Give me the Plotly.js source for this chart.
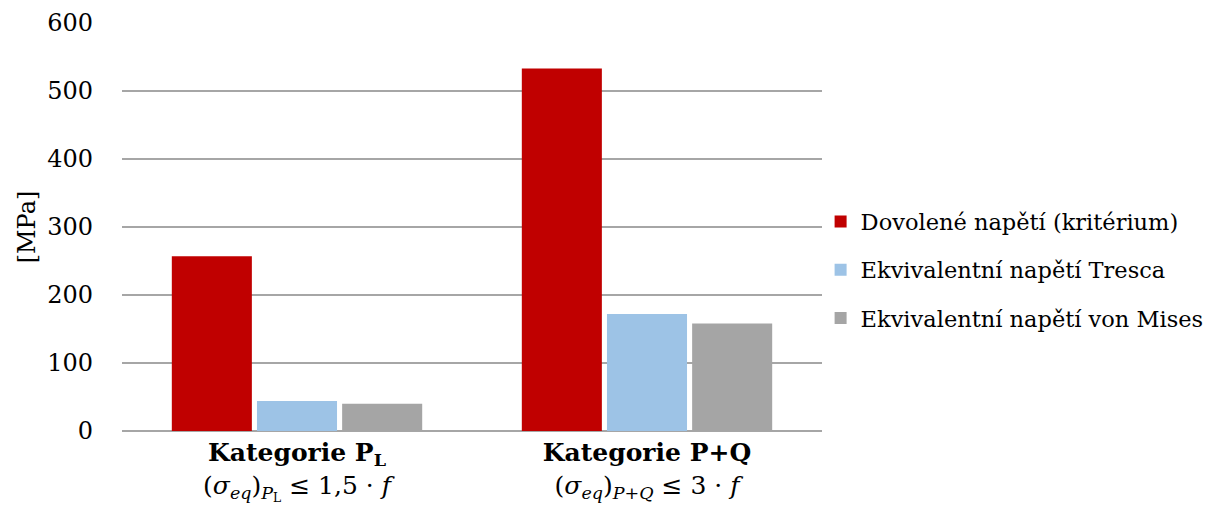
<!DOCTYPE html>
<html>
<head>
<meta charset="utf-8">
<script src="https://cdn.plot.ly/plotly-3.0.1.min.js"></script>
<style>html,body{margin:0;padding:0;background:#fff;}#chart{width:1218px;height:508px;}</style>
</head>
<body>
<div id="chart"></div>
<script>
const categories = ["Kategorie P_L", "Kategorie P+Q"];
const tickLabels = [
  "<b>Kategorie P<sub>L</sub></b><br>(<i>σ</i><sub><i>eq</i></sub>)<sub><i>P</i><sub>L</sub></sub> ≤ 1,5 · <i>f</i>",
  "<b>Kategorie P+Q</b><br>(<i>σ</i><sub><i>eq</i></sub>)<sub><i>P+Q</i></sub> ≤ 3 · <i>f</i>"
];
const seriesNames = ["Dovolené napětí (kritérium)", "Ekvivalentní napětí Tresca", "Ekvivalentní napětí von Mises"];
const allowable = [257, 533];
const tresca = [44, 172];
const vonMises = [40, 158];
const yTicks = [0, 100, 200, 300, 400, 500, 600];

const FONT = "DejaVu Serif";
const colors = ["#c00000", "#9dc3e6", "#a5a5a5"];
const values = [allowable, tresca, vonMises];

const traces = values.map((v, i) => ({
  type: "bar",
  x: categories,
  y: v,
  name: seriesNames[i],
  legendgroup: "g" + i,
  marker: {color: colors[i], line: {width: 0}},
  hoverinfo: "y+name"
}));

const layout = {
  width: 1218, height: 508,
  margin: {l: 122, r: 396, t: 23, b: 77, autoexpand: false},
  paper_bgcolor: "#fff", plot_bgcolor: "#fff",
  font: {family: FONT, size: 24, color: "#000"},
  barmode: "group",
  bargap: 0.27,
  bargroupgap: 0.06,
  showlegend: true,
  legend: {
    x: 0.998, xanchor: "left", y: 0.395, yanchor: "middle",
    font: {family: FONT, size: 22.5, color: "#000"},
    traceorder: "grouped", tracegroupgap: 16,
    itemwidth: 30,
    bgcolor: "rgba(0,0,0,0)"
  },
  xaxis: {
    type: "category",
    tickmode: "array", tickvals: categories, ticktext: tickLabels,
    showgrid: false, zeroline: false, showline: false, ticks: "",
    ticklabelstandoff: 4,
    tickfont: {family: FONT, size: 25, color: "#000"}
  },
  yaxis: {
    range: [0, 600],
    tickmode: "array", tickvals: yTicks,
    showgrid: true, gridcolor: "#a6a6a6", gridwidth: 2,
    zeroline: true, zerolinecolor: "#a6a6a6", zerolinewidth: 2,
    showline: false, ticks: "", ticklen: 0,
    ticklabelstandoff: 28,
    tickfont: {family: FONT, size: 24, color: "#000"},
    title: {text: "[MPa]", font: {family: FONT, size: 24, color: "#000"}, standoff: 4}
  }
};

Plotly.newPlot("chart", traces, layout, {displayModeBar: false, staticPlot: true});
</script>
</body>
</html>
